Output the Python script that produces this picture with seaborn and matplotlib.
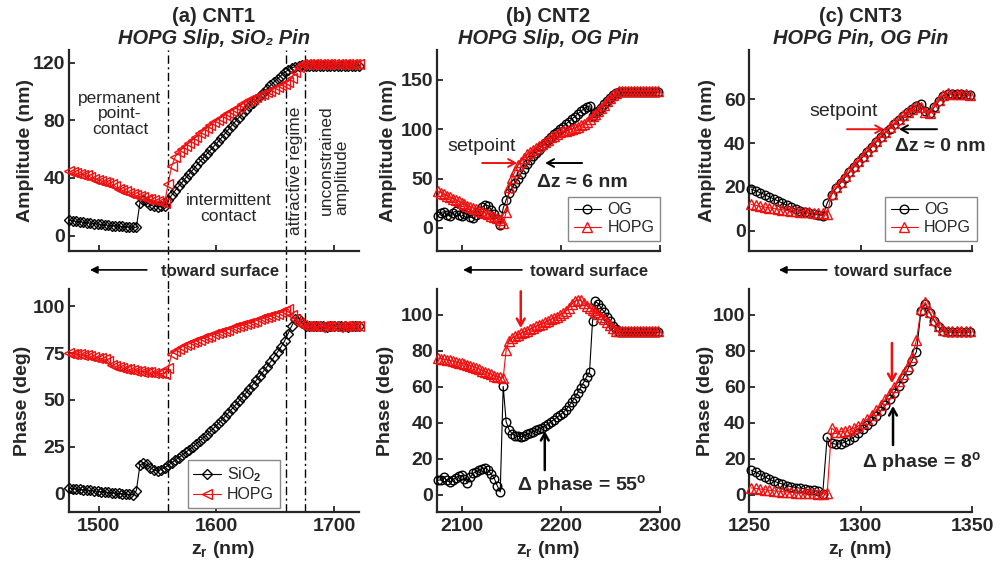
import numpy as np
import matplotlib
matplotlib.use("Agg")
import matplotlib.pyplot as plt
import seaborn as sns

# ---------------- data ----------------
# (a) CNT1 : z_r sampling start / step in nm
a_z0, a_dz = 1475, 3
a_amp_sio2 = [10.5, 10.2, 9.8, 9.5, 9.2, 8.9, 8.6, 8.3, 8.0, 7.7,
              7.4, 7.1, 6.9, 6.7, 6.5, 6.3, 6.1, 5.9, 5.8, 5.7,
              22.5, 24.5, 23.0, 21.0, 20.3, 20.0, 20.2, 20.8, 24.5, 28.0,
              31.2, 34.2, 37.0, 40.0, 42.8, 45.6, 48.5, 51.4, 54.0, 56.7,
              59.3, 62.0, 64.6, 67.5, 70.4, 73.3, 76.2, 79.0, 81.7, 84.3,
              87.0, 89.6, 92.1, 94.5, 96.9, 99.2, 101.7, 104.1, 106.5, 108.8,
              111.0, 113.2, 114.8, 116.2, 117.2, 117.8, 118.0, 117.8, 117.8, 117.8,
              117.8, 117.9, 117.8, 117.7, 117.8, 117.8, 117.9, 117.8, 117.8, 117.7,
              117.8, 117.8, 117.8]
a_amp_hopg = [44.5, 44.0, 43.2, 42.5, 42.3, 41.8, 40.5, 39.5, 38.8, 38.0,
              37.2, 36.5, 35.8, 34.0, 32.5, 31.5, 30.8, 29.8, 28.6, 27.8,
              27.2, 26.5, 25.6, 25.0, 24.3, 23.7, 23.2, 22.5, 36.0, 48.0,
              54.5, 58.0, 60.3, 62.4, 64.5, 66.5, 68.5, 70.8, 72.8, 74.6,
              76.5, 78.5, 80.2, 81.8, 83.4, 85.0, 86.6, 88.0, 89.5, 91.0,
              92.5, 93.8, 95.0, 96.2, 97.3, 98.4, 99.4, 100.6, 101.8, 103.0,
              104.2, 105.4, 106.8, 109.5, 113.5, 117.0, 119.0, 119.2, 119.2, 119.2,
              119.2, 119.3, 119.2, 119.1, 119.2, 119.2, 119.3, 119.2, 119.2, 119.1,
              119.2, 119.2, 119.2]
a_ph_sio2 = [2.8, 2.6, 2.4, 2.2, 2.0, 1.8, 1.6, 1.4, 1.2, 1.0,
             0.8, 0.6, 0.4, 0.2, 0.0, -0.2, -0.4, -0.5, -0.6, 1.5,
             15.0, 16.5, 15.5, 13.8, 12.5, 12.0, 12.8, 13.8, 15.0, 16.4,
             17.8, 19.2, 20.5, 22.0, 23.5, 25.0, 26.6, 28.2, 29.8, 31.5,
             33.3, 35.1, 37.0, 38.9, 40.9, 43.0, 45.0, 47.1, 49.2, 51.4,
             53.6, 55.9, 58.2, 60.5, 62.9, 65.3, 67.8, 70.3, 72.9, 75.6,
             78.4, 81.5, 85.5, 89.5, 93.0, 93.5, 91.0, 89.6, 89.3, 89.3,
             89.3, 89.4, 89.3, 89.2, 89.3, 89.3, 89.4, 89.3, 89.3, 89.2,
             89.3, 89.3, 89.3]
a_ph_hopg = [75.0, 74.8, 74.6, 74.3, 74.0, 73.8, 73.4, 73.0, 72.6, 72.2,
             71.8, 71.0, 68.5, 68.0, 67.6, 67.2, 66.8, 66.4, 66.0, 65.7,
             65.4, 65.2, 65.0, 64.8, 64.6, 64.4, 64.2, 64.0, 67.0, 74.5,
             76.0, 77.2, 78.4, 79.2, 80.0, 80.8, 81.6, 82.3, 83.0, 83.6,
             84.3, 85.0, 85.7, 86.3, 87.0, 87.6, 88.2, 88.8, 89.4, 90.0,
             90.6, 91.2, 91.8, 92.4, 93.0, 93.6, 94.2, 94.8, 95.5, 96.2,
             96.8, 97.5, 98.5, 95.5, 93.0, 91.0, 89.8, 89.3, 89.3, 89.3,
             89.3, 89.2, 89.3, 89.4, 89.3, 89.3, 89.2, 89.3, 89.3, 89.4,
             89.3, 89.3, 89.3]
a_regimes = [1559, 1659, 1675]

# (b) CNT2
b_z0, b_dz = 2076, 3
b_amp_og = [11.8, 15.5, 16.5, 13.5, 12.0, 15.5, 17.0, 13.0, 11.8, 14.5,
            15.2, 11.0, 10.0, 13.5, 17.5, 21.0, 23.6, 22.5, 18.5, 14.0,
            9.5, 3.5, 20.0, 28.5, 35.0, 40.5, 45.5, 50.0, 55.0, 60.0,
            64.5, 69.0, 72.5, 76.0, 79.3, 82.5, 85.5, 88.8, 92.0, 95.0,
            97.5, 100.0, 102.5, 105.0, 107.5, 110.0, 112.5, 115.2, 117.8, 120.3,
            122.5, 123.5, 113.0, 115.8, 118.6, 121.8, 124.9, 128.2, 131.2, 134.2,
            137.0, 137.8, 137.8, 137.9, 137.8, 137.7, 137.8, 137.8, 137.9, 137.8,
            137.8, 137.7, 137.8, 137.8, 137.8]
b_amp_hopg = [37.0, 35.6, 34.1, 32.7, 31.2, 29.8, 28.4, 27.0, 25.5, 24.1,
              22.7, 21.4, 20.1, 18.9, 17.6, 16.4, 15.1, 13.8, 12.4, 11.0,
              9.6, 8.0, 5.2, 16.0, 41.0, 51.0, 57.5, 63.5, 67.0, 70.5,
              74.5, 77.0, 79.0, 81.0, 83.0, 85.0, 87.0, 89.2, 91.5, 93.5,
              95.5, 97.0, 97.8, 98.5, 99.3, 100.2, 101.2, 102.5, 104.0, 105.6,
              107.5, 110.0, 112.8, 115.6, 118.4, 121.6, 124.7, 128.0, 131.0, 134.0,
              137.0, 138.2, 138.2, 138.3, 138.2, 138.1, 138.2, 138.2, 138.3, 138.2,
              138.2, 138.1, 138.2, 138.2, 138.2]
b_ph_og = [8.0, 8.3, 10.0, 8.0, 7.0, 8.3, 9.5, 10.2, 10.8, 9.0,
           6.5, 10.0, 12.0, 12.8, 13.5, 14.5, 14.8, 13.5, 11.5, 9.0,
           5.0, 1.5, 60.2, 40.5, 36.0, 34.0, 32.8, 32.4, 32.3, 32.8,
           33.5, 34.2, 35.0, 35.8, 36.5, 37.3, 38.3, 39.3, 40.5, 41.7,
           43.0, 44.2, 45.5, 47.0, 49.2, 51.5, 53.7, 56.6, 59.5, 62.3,
           65.5, 68.2, 96.3, 107.4, 106.0, 103.5, 101.5, 99.0, 96.5, 94.0,
           91.8, 90.5, 90.3, 90.3, 90.4, 90.3, 90.2, 90.3, 90.3, 90.4,
           90.3, 90.2, 90.3, 90.3, 90.3]
b_ph_hopg = [76.0, 75.6, 75.3, 75.0, 74.6, 74.2, 73.8, 73.4, 73.0, 72.6,
             72.2, 71.6, 71.0, 70.4, 69.7, 69.0, 68.3, 67.6, 66.9, 66.2,
             65.6, 65.2, 64.8, 80.6, 85.5, 87.0, 88.0, 88.9, 89.7, 90.4,
             91.2, 92.0, 92.8, 93.6, 94.3, 95.0, 95.8, 96.6, 97.4, 98.2,
             99.0, 99.9, 100.8, 102.0, 103.8, 105.8, 107.4, 108.3, 108.0, 106.5,
             105.0, 104.0, 102.8, 101.6, 100.4, 99.0, 97.6, 96.2, 94.5, 92.6,
             91.2, 90.8, 90.8, 90.9, 90.8, 90.7, 90.8, 90.8, 90.9, 90.8,
             90.8, 90.7, 90.8, 90.8, 90.8]

# (c) CNT3
c_z0, c_dz = 1251, 2
c_amp_og = [19.0, 18.2, 17.4, 16.5, 15.5, 14.6, 13.6, 12.6, 11.6, 10.7,
            9.9, 9.2, 8.6, 8.1, 7.6, 7.2, 6.9, 12.6, 16.5, 19.3,
            21.8, 24.2, 26.6, 29.0, 31.4, 33.7, 36.0, 38.3, 40.5, 42.6,
            44.6, 46.6, 48.5, 50.3, 52.2, 54.0, 55.6, 57.0, 57.8, 54.6,
            53.8, 56.5, 59.0, 61.5, 62.4, 62.3, 62.2, 62.2, 62.0, 61.8]
c_amp_hopg = [12.0, 11.6, 11.2, 10.8, 10.5, 10.2, 9.9, 9.6, 9.4, 9.2,
              9.0, 8.8, 8.6, 8.4, 8.2, 8.0, 7.9, 7.7, 16.8, 19.8,
              22.3, 24.8, 27.2, 29.6, 32.0, 34.3, 36.6, 38.8, 41.0, 43.1,
              45.1, 47.1, 49.0, 50.8, 52.6, 54.2, 55.6, 56.8, 56.5, 54.0,
              53.5, 56.5, 59.5, 62.0, 62.6, 62.5, 62.5, 62.4, 62.3, 62.0]
c_ph_og = [13.6, 12.6, 11.2, 10.0, 8.6, 7.6, 6.7, 5.9, 5.0, 4.5,
           4.0, 3.6, 3.2, 2.8, 2.4, 2.0, 0.5, 32.0, 28.6, 28.0,
           28.3, 29.2, 30.4, 32.0, 34.5, 36.4, 38.6, 41.2, 43.8, 46.6,
           49.6, 53.0, 56.6, 60.5, 64.8, 69.5, 74.5, 79.5, 102.0, 106.0,
           101.0, 96.5, 93.0, 91.0, 90.5, 90.3, 90.3, 90.3, 90.3, 90.3]
c_ph_hopg = [3.8, 3.5, 3.2, 2.8, 2.5, 2.2, 2.0, 1.7, 1.5, 1.3,
             1.1, 1.0, 0.9, 0.8, 0.7, 0.6, 0.6, 0.8, 37.0, 35.0,
             35.0, 35.3, 36.0, 37.0, 38.3, 40.0, 42.0, 44.3, 47.0, 49.8,
             53.0, 56.3, 59.7, 63.3, 67.2, 71.5, 76.5, 86.0, 103.0, 107.0,
             101.5, 97.0, 93.5, 91.5, 90.8, 90.8, 90.8, 90.8, 90.8, 90.8]

# ---------------- style ----------------
sns.set_style("ticks")
plt.rcParams["font.family"] = ["Liberation Sans", "DejaVu Sans"]
plt.rcParams["font.weight"] = "bold"
plt.rcParams["mathtext.fontset"] = "custom"
plt.rcParams["mathtext.rm"] = "Liberation Sans"
plt.rcParams["mathtext.bf"] = "Liberation Sans:bold"
plt.rcParams["mathtext.it"] = "Liberation Sans:italic"

W, H = 1003, 571
fig = plt.figure(figsize=(W / 100, H / 100), dpi=100)


def box(l, t, r, b):
    return [l / W, 1 - b / H, (r - l) / W, (b - t) / H]


axA1 = fig.add_axes(box(68.7, 50, 359.3, 251))
axA2 = fig.add_axes(box(68.7, 289, 359.3, 512))
axB1 = fig.add_axes(box(436.7, 50, 660, 251))
axB2 = fig.add_axes(box(436.7, 289, 660, 512))
axC1 = fig.add_axes(box(749, 50, 972.3, 251))
axC2 = fig.add_axes(box(749, 289, 972.3, 512))

RED = "#f01010"


def draw(ax, z0, dz, vals, color, marker, ms, label=None):
    z = z0 + dz * np.arange(len(vals))
    sns.lineplot(x=z, y=np.asarray(vals, float), ax=ax, color=color,
                 marker=marker, markersize=ms, markerfacecolor="none",
                 markeredgecolor=color, markeredgewidth=1.0, linewidth=0.8,
                 label=label, estimator=None, sort=False, legend=False,
                 clip_on=False, zorder=3)
    return ax.lines[-1]


# panel (a)
for x in a_regimes:
    axA1.axvline(x, ymin=-0.19, ymax=1, color="k", lw=1.0,
                 ls=(0, (6, 2.5, 1.5, 2.5)), clip_on=False, zorder=1)
    axA2.axvline(x, ymin=0, ymax=1, color="k", lw=1.0,
                 ls=(0, (6, 2.5, 1.5, 2.5)), zorder=1)
draw(axA1, a_z0, a_dz, a_amp_sio2, "k", "D", 5.2)
draw(axA1, a_z0, a_dz, a_amp_hopg, RED, "<", 6.5)
draw(axA2, a_z0, a_dz, a_ph_sio2, "k", "D", 5.2, r"SiO$_2$")
draw(axA2, a_z0, a_dz, a_ph_hopg, RED, "<", 6.5, "HOPG")

# panel (b)
draw(axB1, b_z0, b_dz, b_amp_og, "k", "o", 6.2, "OG")
draw(axB1, b_z0, b_dz, b_amp_hopg, RED, "^", 6.5, "HOPG")
draw(axB2, b_z0, b_dz, b_ph_og, "k", "o", 6.2)
draw(axB2, b_z0, b_dz, b_ph_hopg, RED, "^", 6.5)

# panel (c)
draw(axC1, c_z0, c_dz, c_amp_og, "k", "o", 6.2, "OG")
draw(axC1, c_z0, c_dz, c_amp_hopg, RED, "^", 6.5, "HOPG")
draw(axC2, c_z0, c_dz, c_ph_og, "k", "o", 6.2)
draw(axC2, c_z0, c_dz, c_ph_hopg, RED, "^", 6.5)

# ---------------- axes formatting ----------------
specs = [
    (axA1, (1474.5, 1721.5), [1500, 1600, 1700], (-10.75, 128.7), [0, 40, 80, 120], "Amplitude (nm)", -0.119, False),
    (axA2, (1474.5, 1721.5), [1500, 1600, 1700], (-9.9, 109.3), [0, 25, 50, 75, 100], "Phase (deg)", -0.130, True),
    (axB1, (2075, 2300), [2100, 2200, 2300], (-23.3, 180), [0, 50, 100, 150], "Amplitude (nm)", -0.178, False),
    (axB2, (2075, 2300), [2100, 2200, 2300], (-9.6, 114.3), [0, 20, 40, 60, 80, 100], "Phase (deg)", -0.191, True),
    (axC1, (1250, 1350), [1250, 1300, 1350], (-9.2, 82.4), [0, 20, 40, 60], "Amplitude (nm)", -0.148, False),
    (axC2, (1250, 1350), [1250, 1300, 1350], (-9.6, 114.3), [0, 20, 40, 60, 80, 100], "Phase (deg)", -0.157, True),
]
for ax, xl, xt, yl, yt, ylab, ylx, bottom in specs:
    ax.set_xlim(*xl)
    ax.set_ylim(*yl)
    ax.set_xticks(xt)
    ax.set_yticks(yt)
    sns.despine(ax=ax)
    for s in ("left", "bottom"):
        ax.spines[s].set_linewidth(1.6)
    ax.tick_params(direction="in", length=4, width=1.3, labelsize=14)
    ax.tick_params(axis="x", pad=4)
    ax.tick_params(axis="y", pad=2.5)
    ax.set_ylabel(ylab, fontsize=14, fontweight="bold")
    ax.yaxis.set_label_coords(ylx, 0.5)
    if bottom:
        ax.set_xlabel(r"z$_\mathbf{r}$ (nm)", fontsize=14, fontweight="bold")
        ax.xaxis.set_label_coords(0.53 if ax is axA2 else 0.5, -0.12)
    else:
        ax.tick_params(axis="x", labelbottom=False)
        ax.set_xlabel("")

# ---------------- titles ----------------
titles = [("(a) CNT1", "HOPG Slip, SiO\u2082 Pin", 214),
          ("(b) CNT2", "HOPG Slip, OG Pin", 548.5),
          ("(c) CNT3", "HOPG Pin, OG Pin", 860.6)]
for t1, t2, xc in titles:
    fig.text(xc / W, 1 - 22 / H, t1, ha="center", va="baseline",
             fontsize=14.5, fontweight="bold")
    fig.text(xc / W, 1 - 44 / H, t2, ha="center", va="baseline",
             fontsize=14.5, fontweight="bold", style="italic")

# ---------------- "toward surface" ----------------
for ax, a0, a1, tx in [(axA1, 0.269, 0.073, 0.521),
                       (axB1, 0.382, 0.118, 0.682),
                       (axC1, 0.349, 0.134, 0.645)]:
    ax.annotate("", xy=(a1, -0.094), xytext=(a0, -0.094),
                xycoords="axes fraction", textcoords="axes fraction",
                arrowprops=dict(arrowstyle="-|>", color="k", lw=1.2,
                                mutation_scale=11, shrinkA=0, shrinkB=0),
                annotation_clip=False)
    ax.text(tx, -0.124, "toward surface", transform=ax.transAxes,
            ha="center", va="baseline", fontsize=12, fontweight="bold")

# ---------------- regime labels (a) ----------------
axA1.text(1518, 84.5, "permanent\npoint-\ncontact", ha="center", va="center",
          fontsize=12.5, fontweight="normal", linespacing=1.05)
axA1.text(1610.6, 18.6, "intermittent\ncontact", ha="center", va="center",
          fontsize=12.5, fontweight="normal", linespacing=1.05)
axA1.text(1667.5, 44.7, "attractive regime", ha="center", va="center",
          rotation=90, fontsize=12.5, fontweight="normal")
axA1.text(1700, 52, "unconstrained\namplitude", ha="center", va="center",
          rotation=90, fontsize=12.5, fontweight="normal", linespacing=1.1,
          multialignment="left")

# ---------------- setpoint annotations ----------------
open_arrow = "->,head_length=0.5,head_width=0.28"


def arrow(ax, x0, y0, x1, y1, color, lw):
    ax.annotate("", xy=(x1, y1), xytext=(x0, y0),
                arrowprops=dict(arrowstyle=open_arrow, color=color, lw=lw,
                                shrinkA=0, shrinkB=0),
                annotation_clip=False, zorder=5)


axB1.text(2120.8, 77.5, "setpoint", ha="center", va="baseline",
          fontsize=14, fontweight="normal")
arrow(axB1, 2120.8, 65.7, 2156, 65.7, RED, 1.4)
arrow(axB1, 2221.5, 65.7, 2184.3, 65.7, "k", 1.4)
axB1.text(2221.5, 41.2, "\u0394z \u2248 6 nm", ha="center", va="baseline",
          fontsize=14, fontweight="bold")

axC1.text(1292.5, 52.1, "setpoint", ha="center", va="baseline",
          fontsize=14, fontweight="normal")
arrow(axC1, 1293.9, 46.3, 1310.5, 46.3, RED, 1.4)
arrow(axC1, 1334.2, 46.3, 1317.2, 46.3, "k", 1.4)
axC1.text(1335.5, 36.3, "\u0394z \u2248 0 nm", ha="center", va="baseline",
          fontsize=14, fontweight="bold")

arrow(axB2, 2159.7, 113, 2159.7, 92.6, RED, 1.8)
arrow(axB2, 2183.9, 13.7, 2183.9, 35.4, "k", 1.8)
axB2.text(2221, 2.8, "\u0394 phase = 55$^{\\mathbf{o}}$", ha="center",
          va="baseline", fontsize=14, fontweight="bold")

arrow(axC2, 1314, 84.3, 1314, 62, RED, 1.8)
arrow(axC2, 1314.5, 27.6, 1314.5, 49.3, "k", 1.8)
axC2.text(1327, 15.4, "\u0394 phase = 8$^{\\mathbf{o}}$", ha="center",
          va="baseline", fontsize=14, fontweight="bold")

# ---------------- legends ----------------
leg_kw = dict(fontsize=11.5, frameon=True, fancybox=False, edgecolor="#888888",
              framealpha=1, handlelength=1.7, handletextpad=0.4,
              labelspacing=0.2, borderpad=0.35, borderaxespad=0)
axA2.legend(loc="lower left", bbox_to_anchor=(0.41, 0.018), **leg_kw)
axB1.legend(loc="lower right", bbox_to_anchor=(1.0, 0.05), **leg_kw)
axC1.legend(loc="lower right", bbox_to_anchor=(1.02, 0.05), **leg_kw)
for ax in (axA2, axB1, axC1):
    for t in ax.get_legend().get_texts():
        t.set_fontweight("normal")
    ax.get_legend().get_frame().set_linewidth(1.0)

fig.savefig("out.png", dpi=100)
